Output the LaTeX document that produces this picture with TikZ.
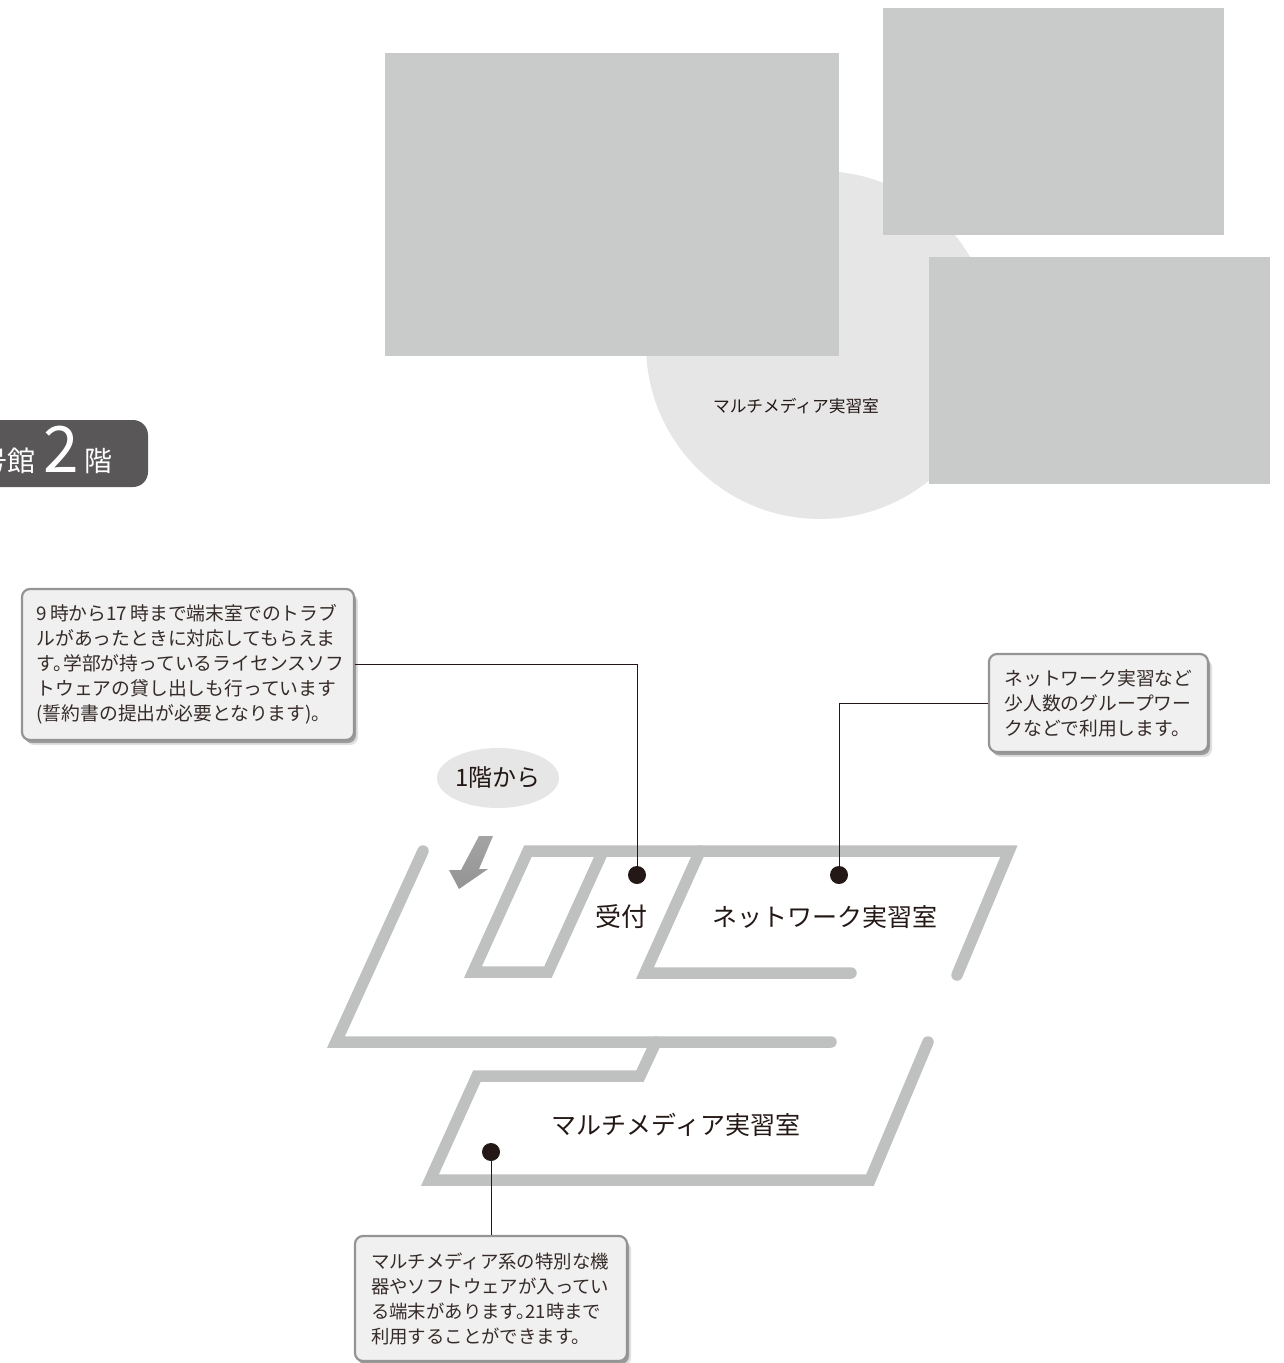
\documentclass[tikz,border=0pt]{standalone}
\usepackage{fontspec}
\setmainfont{Noto Sans CJK JP}
\usetikzlibrary{positioning, shadows, shapes.geometric}
\definecolor{wall}{HTML}{BFC1C0}
\definecolor{photo}{HTML}{C9CACA}
\definecolor{pale}{HTML}{E6E6E6}
\definecolor{ink}{HTML}{231815}
\definecolor{tag}{HTML}{595757}
\newcommand{\maru}{。\hspace{-9pt}}
\tikzset{
	callout/.style={draw=black!42, line width=2.2pt, fill=black!6, rounded corners=8pt, text=ink!92, align=left, inner sep=0pt, font=\fontsize{18.8}{25}\selectfont,
		drop shadow={shadow xshift=4pt, shadow yshift=-5pt, fill=black, opacity=.12},
		drop shadow={shadow xshift=2pt, shadow yshift=-3pt, fill=black, opacity=.3}},
	room/.style={text=ink, font=\fontsize{25}{30}\selectfont, inner sep=0pt},
	spot/.style={circle, fill=ink, minimum size=18pt, inner sep=0pt},
	wire/.style={draw=ink, line width=.8pt},
	wallline/.style={draw=wall, line width=11.5pt, line cap=round, miter limit=10}
}

\begin{document}
\begin{tikzpicture}[x=1pt, y=-1pt]
	\useasboundingbox (0,0) rectangle (1284,1363);

	\fill[pale] (820,345) circle (174);
	\fill[photo] (385,53) rectangle (839,356);
	\fill[photo] (883,8) rectangle (1224,235);
	\fill[photo] (929,257) rectangle (1270,484);
	\node[text=ink, inner sep=0pt, font=\fontsize{16.7}{20}\selectfont] (caption) at (796,406) {マルチメディア実習室};

	\fill[tag, rounded corners=15pt] (-40,420) rectangle (148,487);
	\node[text=white, inner sep=0pt, font=\fontsize{28}{32}\selectfont, anchor=east] (building) at (36,461) {号館};
	\node[text=white, inner sep=0pt, font=\fontsize{64}{68}\selectfont, anchor=center] (floornum) at (61,449) {2};
	\node[text=white, inner sep=0pt, font=\fontsize{28}{32}\selectfont, anchor=center] (floorname) at (98,461) {階};

	\draw[wallline] (423,851) -- (336,1042) -- (831,1042);
	\draw[wallline] (928,1042) -- (870,1180) -- (430,1180) -- (477,1076) -- (640,1076) -- (656,1042);
	\draw[wallline] (957,975) -- (1009,851) -- (528,851) -- (473,972) -- (548,972) -- (603,851);
	\draw[wallline] (851,973) -- (645,973) -- (700,851);

	\shade[top color=black!36, bottom color=black!42] (479,836) -- (493,836) -- (479,869) -- (488,869) -- (459,889) -- (449,870) -- (461,870) -- cycle;

	\node[fill=pale, ellipse, minimum width=122pt, minimum height=60pt, inner sep=0pt, text=ink, font=\fontsize{24}{28}\selectfont] (from1f) at (498,778) {1階から};

	\node[room, font=\fontsize{26}{30}\selectfont] (desk) at (621,917) {受付};
	\node[room] (netroom) at (825,917) {ネットワーク実習室};
	\node[room] (mediaroom) at (676,1125) {マルチメディア実習室};

	\node[spot] (deskspot) at (637,875) {};
	\node[spot] (netspot) at (839,875) {};
	\node[spot] (mediaspot) at (491,1152) {};

	\node[callout, text width=303pt, minimum width=332pt, minimum height=151pt] (deskbox) at (188,664.5) {9\,時から17\,時まで端末室でのトラブ\\ルがあったときに対応してもらえま\\\mbox{す\maru 学部が持っているライセンスソフ}\\トウェアの貸し出しも行っています\\(誓約書の提出が必要となります)\maru};
	\node[callout, text width=188pt, minimum width=219pt, minimum height=98pt] (netbox) at (1098.5,703) {ネットワーク実習など\\少人数のグループワー\\クなどで利用します\maru};
	\node[callout, text width=240pt, minimum width=272pt, minimum height=125pt, font=\fontsize{18.4}{25}\selectfont] (mediabox) at (491,1298.5) {マルチメディア系の特別な機\\器やソフトウェアが入ってい\\る端末があります\maru 21時まで\\利用することができます\maru};

	\draw[wire] (deskbox.east) -| (deskspot);
	\draw[wire] (netbox.west) -| (netspot);
	\draw[wire] (mediaspot) -- (mediabox.north);
\end{tikzpicture}
\end{document}
